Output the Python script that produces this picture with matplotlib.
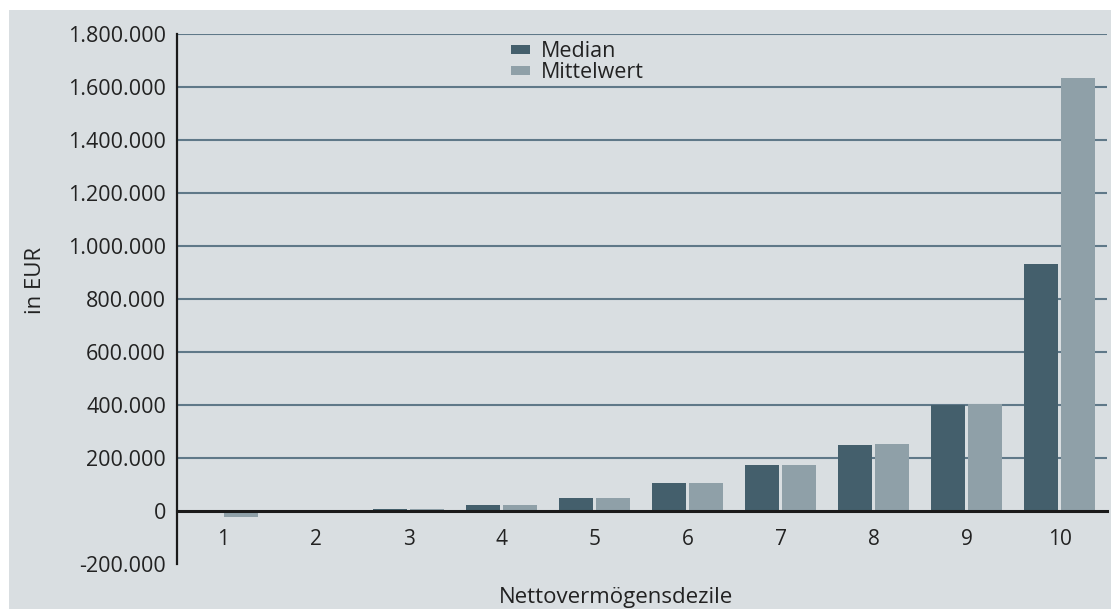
import matplotlib
matplotlib.use("Agg")
import matplotlib.pyplot as plt
from matplotlib.patches import Rectangle
import numpy as np

categories = ["1", "2", "3", "4", "5", "6", "7", "8", "9", "10"]
median_values = [500, 1000, 8000, 23000, 49000, 106000, 174000, 249000, 400000, 932000]
mean_values = [-22000, 1000, 8000, 23000, 49000, 106000, 174000, 253000, 404000, 1635000]
ytick_values = [-200000, 0, 200000, 400000, 600000, 800000, 1000000, 1200000,
                1400000, 1600000, 1800000]
ytick_labels = ["-200.000", "0", "200.000", "400.000", "600.000", "800.000",
                "1.000.000", "1.200.000", "1.400.000", "1.600.000", "1.800.000"]
series_names = ["Median", "Mittelwert"]

BG = "#d9dee1"
DARK = "#445f6c"
LIGHT = "#8fa0a8"
GRID = "#5f7888"
TXT = "#222222"

plt.rcParams['font.family'] = ['Open Sans', 'DejaVu Sans']

fig = plt.figure(figsize=(11.11, 6.09), dpi=100, facecolor="white")
fig.patches.append(Rectangle((9 / 1111, 0), 1, (609 - 10) / 609,
                             transform=fig.transFigure, facecolor=BG,
                             edgecolor="none", zorder=-10))
ax = fig.add_axes([177 / 1111, (609 - 564) / 609, (1107 - 177) / 1111, (564 - 34) / 609])
ax.set_facecolor("none")

x = np.arange(1, len(categories) + 1)
w = 0.365
off = 0.2
ax.bar(x - off, median_values, width=w, color=DARK, label=series_names[0], zorder=3)
ax.bar(x + off, mean_values, width=w, color=LIGHT, label=series_names[1], zorder=3)

ax.set_xlim(0.51, 10.51)
ax.set_ylim(-200000, 1800000)
ax.set_yticks(ytick_values)
ax.set_yticklabels(ytick_labels)
ax.set_xticks(x)
ax.set_xticklabels(categories)

ax.grid(axis="y", color=GRID, linewidth=1.5, zorder=1)
ax.set_axisbelow(True)
ygl = ax.get_ygridlines()
for val, gl in zip(ytick_values, ygl):
    if val <= 0:
        gl.set_visible(False)

for s in ["top", "right"]:
    ax.spines[s].set_visible(False)
ax.spines["left"].set_linewidth(1.6)
ax.spines["left"].set_color("#1a1a1a")
ax.spines["bottom"].set_position(("data", 0))
ax.spines["bottom"].set_linewidth(2.2)
ax.spines["bottom"].set_color("#1a1a1a")
ax.spines["bottom"].set_zorder(4)

ax.tick_params(axis="y", length=0, pad=8, labelsize=15.5, labelcolor=TXT)
ax.tick_params(axis="x", length=0, pad=13, labelsize=15, labelcolor=TXT)

ax.set_ylabel("in EUR", fontsize=16, color=TXT)
ax.yaxis.set_label_coords(-0.141, (564 - 280) / 530)
fig.text(616 / 1111, 1 - 597 / 609, "Nettovermögensdezile", fontsize=16,
         color=TXT, ha="center", va="center")

leg = ax.legend(loc="upper left", bbox_to_anchor=((511 - 177) / 930, 1 - (41 - 34) / 530),
                frameon=False, fontsize=15.5, handlelength=0.9, handleheight=0.3,
                handletextpad=0.5, labelspacing=0.02, borderpad=0, borderaxespad=0)
for t in leg.get_texts():
    t.set_color(TXT)

fig.savefig("out.png", dpi=100, facecolor="white")
